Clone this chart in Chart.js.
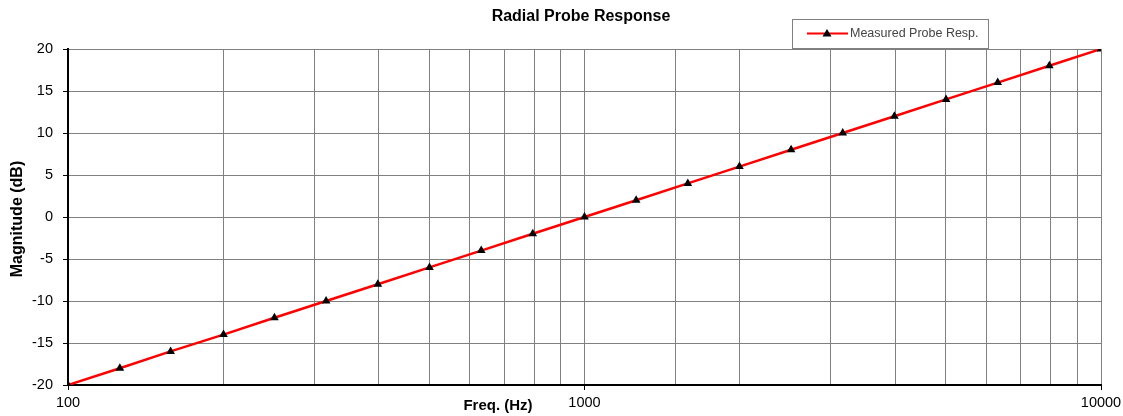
<!DOCTYPE html>
<html>
<head>
<meta charset="utf-8">
<title>Radial Probe Response</title>
<script src="https://cdn.jsdelivr.net/npm/chart.js@4/dist/chart.umd.min.js"></script>
<style>
  html, body { margin: 0; padding: 0; background: #fff; }
  #wrap { width: 1123px; height: 416px; position: relative; }
</style>
</head>
<body>
<div id="wrap"><canvas id="probeChart"></canvas></div>
<script>
// Probe response, 20 dB per decade
const freqHz = [100, 126, 158, 200, 251, 316, 398, 501, 631, 794, 1000,
                1259, 1585, 1995, 2512, 3162, 3981, 5012, 6310, 7943, 10000];
const magnitudeDb = [-20, -18, -16, -14, -12, -10, -8, -6, -4, -2, 0,
                     2, 4, 6, 8, 10, 12, 14, 16, 18, 20];
const xTickLabels = [100, 1000, 10000];
const seriesLabel = 'Measured Probe Resp.';

const FONT = '"Liberation Sans", Arial, sans-serif';
const GRID = '#808080';

function isDecade(v) {
    return xTickLabels.includes(Math.round(v));
}

// titles + boxed legend, drawn on top like the spreadsheet chart
const chartText = {
    id: 'chartText',
    afterDraw(chart) {
        const ctx = chart.ctx;
        const ds = chart.data.datasets[0];
        ctx.save();
        ctx.fillStyle = '#000';
        ctx.textAlign = 'center';
        ctx.textBaseline = 'middle';

        ctx.font = 'bold 16px ' + FONT;
        ctx.fillText('Radial Probe Response', 581, 17);

        ctx.font = 'bold 15px ' + FONT;
        ctx.fillText('Freq. (Hz)', 498, 406);

        ctx.save();
        ctx.translate(18, 219);
        ctx.rotate(-Math.PI / 2);
        ctx.font = 'bold 16px ' + FONT;
        ctx.fillText('Magnitude (dB)', 0, 0);
        ctx.restore();

        // legend box
        ctx.fillStyle = '#fff';
        ctx.fillRect(792, 19, 196, 29);
        ctx.strokeStyle = GRID;
        ctx.lineWidth = 1;
        ctx.strokeRect(792.5, 19.5, 196, 29);

        ctx.strokeStyle = ds.borderColor;
        ctx.lineWidth = 2;
        ctx.beginPath();
        ctx.moveTo(807, 33.5);
        ctx.lineTo(848, 33.5);
        ctx.stroke();

        ctx.fillStyle = '#000';
        ctx.beginPath();
        ctx.moveTo(827, 29);
        ctx.lineTo(831.5, 36.5);
        ctx.lineTo(822.5, 36.5);
        ctx.closePath();
        ctx.fill();

        ctx.fillStyle = '#444';
        ctx.textAlign = 'left';
        ctx.font = '12.5px ' + FONT;
        ctx.fillText(ds.label, 850, 34);
        ctx.restore();
    }
};

new Chart(document.getElementById('probeChart'), {
    type: 'line',
    data: {
        datasets: [{
            label: seriesLabel,
            data: freqHz.map((f, i) => ({ x: f, y: magnitudeDb[i] })),
            borderColor: '#ff0000',
            borderWidth: 2.5,
            pointStyle: 'triangle',
            pointRadius: 5,
            pointBackgroundColor: '#000',
            pointBorderColor: '#000',
            pointBorderWidth: 0,
            tension: 0,
            fill: false
        }]
    },
    options: {
        responsive: true,
        maintainAspectRatio: false,
        animation: false,
        layout: { padding: { top: 49, right: 22, left: 0, bottom: 0 } },
        plugins: {
            legend: { display: false },
            title: { display: false },
            tooltip: { enabled: false }
        },
        scales: {
            x: {
                type: 'logarithmic',
                min: 100,
                max: 10000,
                afterFit(scale) {
                    scale.height = 31;
                    scale.paddingRight = 0;
                },
                border: { color: '#000', width: 2 },
                grid: {
                    color: GRID,
                    lineWidth: 1,
                    tickLength: 5,
                    tickColor: c => (c.tick && isDecade(c.tick.value)) ? '#000' : 'rgba(0,0,0,0)'
                },
                ticks: {
                    autoSkip: false,
                    maxRotation: 0,
                    padding: 4,
                    color: '#000',
                    font: { family: FONT, size: 14.5 },
                    callback: v => isDecade(v) ? String(Math.round(v)) : ''
                }
            },
            y: {
                min: -20,
                max: 20,
                afterFit(scale) { scale.width = 68; },
                border: { color: '#000', width: 2 },
                grid: {
                    color: GRID,
                    lineWidth: 1,
                    tickLength: 5,
                    tickColor: '#000'
                },
                ticks: {
                    stepSize: 5,
                    padding: 10,
                    color: '#000',
                    font: { family: FONT, size: 14.5 }
                }
            }
        }
    },
    plugins: [chartText]
});
</script>
</body>
</html>
